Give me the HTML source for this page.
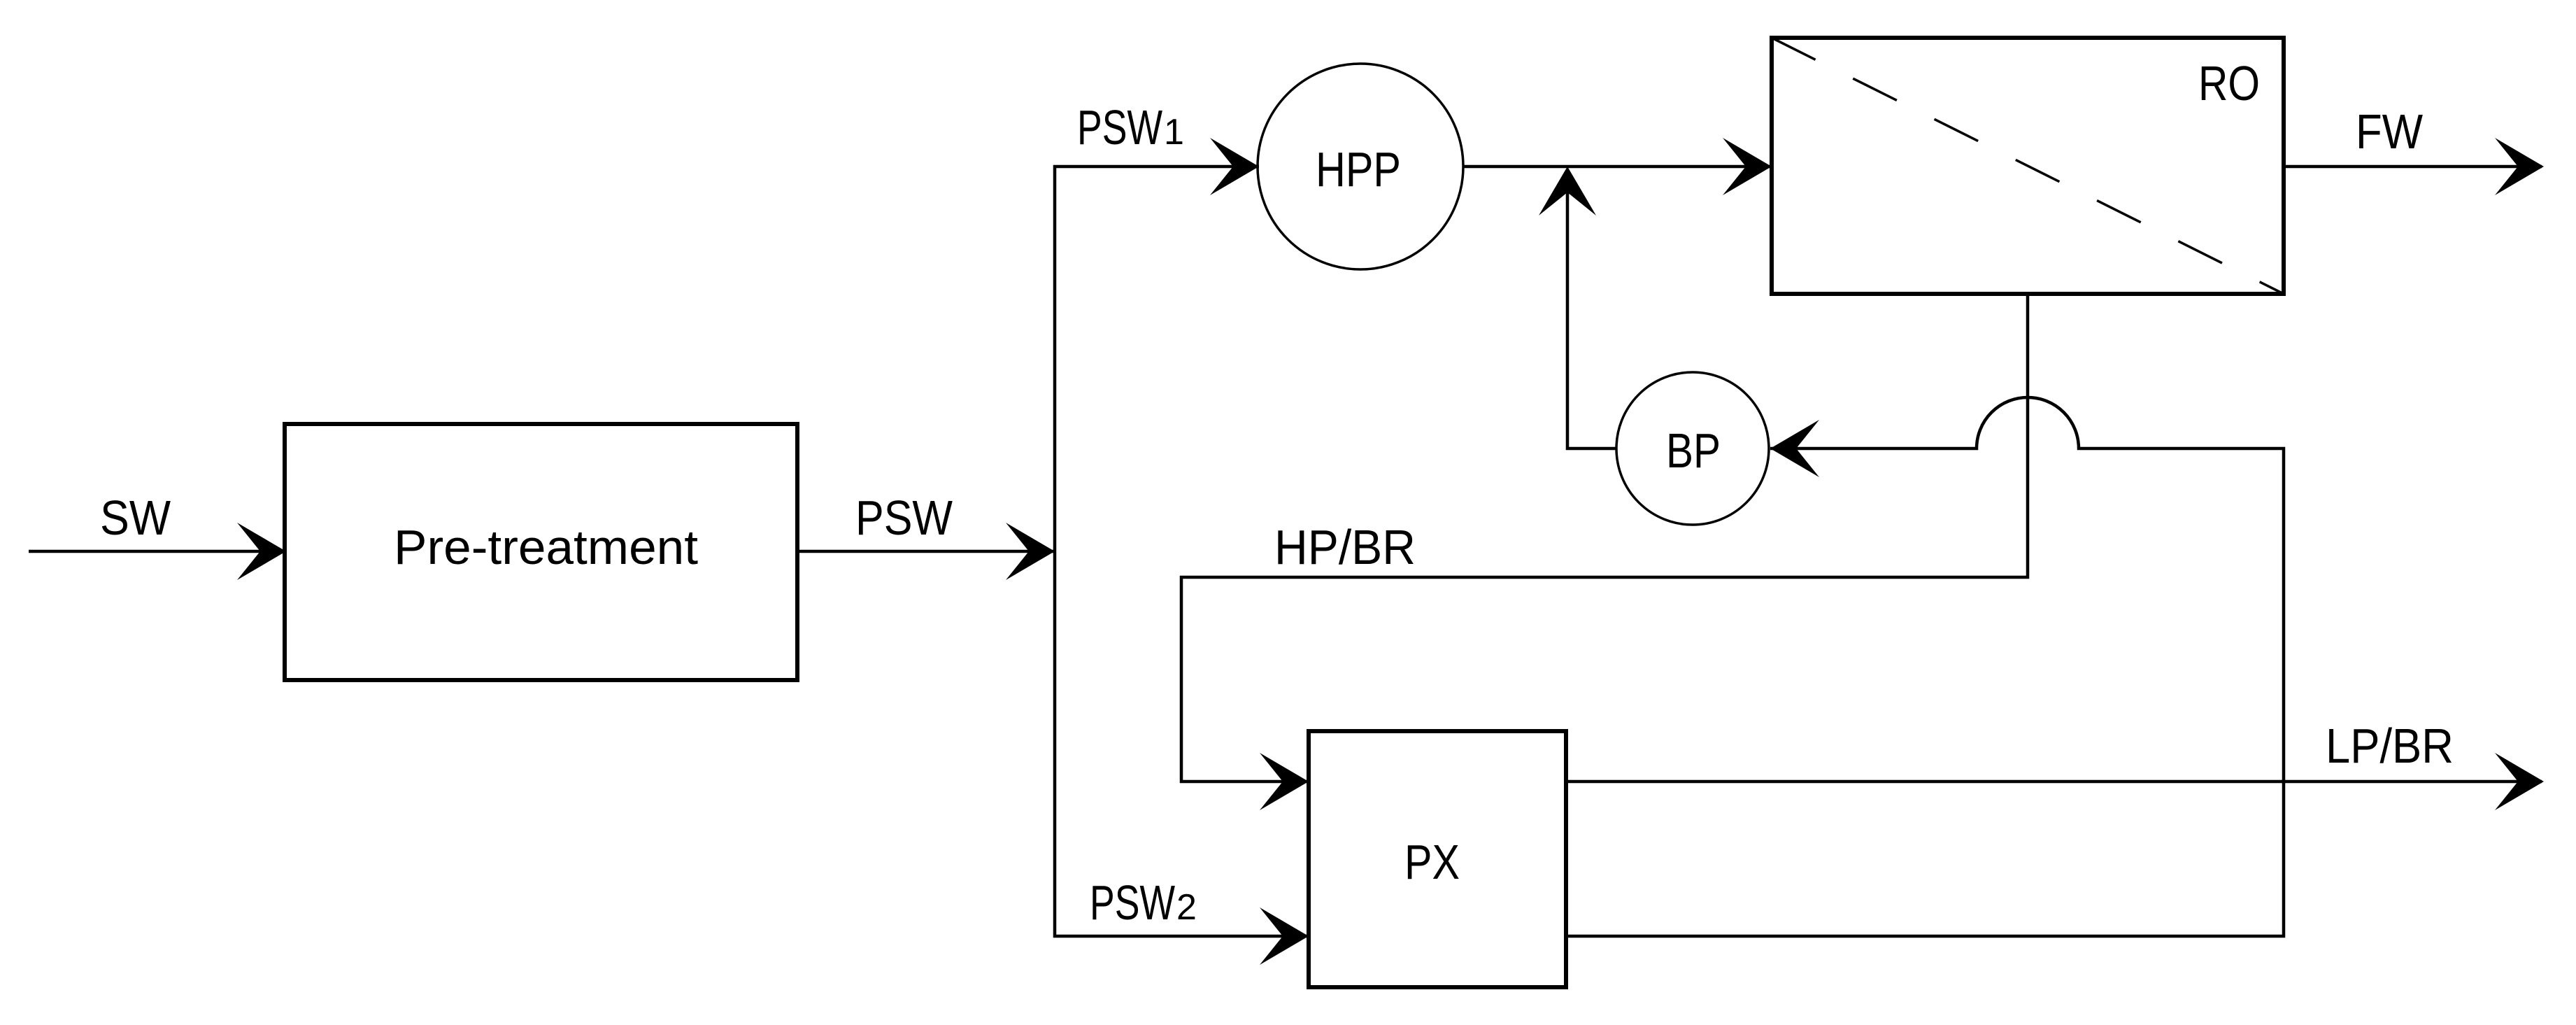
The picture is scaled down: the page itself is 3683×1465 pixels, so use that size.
<!DOCTYPE html>
<html><head><meta charset="utf-8"><style>html,body{margin:0;padding:0;background:#fff}svg{display:block}</style></head>
<body>
<svg width="3683" height="1465" viewBox="0 0 3683 1465" xmlns="http://www.w3.org/2000/svg" font-family="'Liberation Sans', sans-serif" font-size="70" fill="#000">
<defs>
<path id="ah" d="M0,0 L-70,-41 L-37,0 L-70,41 Z"/>
</defs>
<g stroke="#000" stroke-width="4.5" fill="none">
<!-- SW -->
<line x1="41" y1="788" x2="406" y2="788"/>
<!-- pre-treatment -->
<rect x="407" y="606" width="733" height="366" stroke-width="6"/>
<line x1="1140" y1="788" x2="1507" y2="788"/>
<!-- vertical split -->
<polyline points="1800,238 1508,238 1508,1338 1868,1338"/>
<!-- HPP -->
<circle cx="1945" cy="238" r="147" stroke-width="3.5"/>
<line x1="2092" y1="238" x2="2530" y2="238"/>
<!-- RO -->
<rect x="2533" y="54" width="732" height="366" stroke-width="6"/>
<line x1="2533" y1="54" x2="3265" y2="420" stroke-dasharray="70,60" stroke-width="3.5"/>
<line x1="3265" y1="238" x2="3634" y2="238"/>
<!-- BP loop -->
<polyline points="2312,641 2241,641 2241,245"/>
<circle cx="2420" cy="641" r="109" stroke-width="3.5"/>
<path d="M2531,641 L2826,641 A73,73 0 0 1 2972,641 L3265,641 L3265,1338 L2239,1338"/>
<!-- HP/BR -->
<polyline points="2899,420 2899,825 1689,825 1689,1117 1868,1117"/>
<!-- PX -->
<rect x="1871" y="1045" width="368" height="366" stroke-width="6"/>
<line x1="2239" y1="1117" x2="3634" y2="1117"/>
</g>
<use href="#ah" transform="translate(409,788)"/>
<use href="#ah" transform="translate(1508,788)"/>
<use href="#ah" transform="translate(1800,238)"/>
<use href="#ah" transform="translate(2533,238)"/>
<use href="#ah" transform="translate(3637,238)"/>
<use href="#ah" transform="translate(2241,238) rotate(-90)"/>
<use href="#ah" transform="translate(2531,641) rotate(180)"/>
<use href="#ah" transform="translate(1871,1117)"/>
<use href="#ah" transform="translate(1871,1338)"/>
<use href="#ah" transform="translate(3637,1117)"/>
<g dominant-baseline="alphabetic">
<text x="143" y="764" textLength="101" lengthAdjust="spacingAndGlyphs">SW</text>
<text x="563" y="806" textLength="435" lengthAdjust="spacingAndGlyphs">Pre-treatment</text>
<text x="1223" y="764" textLength="139" lengthAdjust="spacingAndGlyphs">PSW</text>
<text x="1540" y="206" textLength="122" lengthAdjust="spacingAndGlyphs">PSW</text>
<text x="1664" y="206" font-size="52">1</text>
<text x="1558" y="1314" textLength="122" lengthAdjust="spacingAndGlyphs">PSW</text>
<text x="1682" y="1314" font-size="52">2</text>
<text x="1881" y="266" textLength="122" lengthAdjust="spacingAndGlyphs">HPP</text>
<text x="3143" y="143" textLength="88" lengthAdjust="spacingAndGlyphs">RO</text>
<text x="3368" y="212" textLength="96" lengthAdjust="spacingAndGlyphs">FW</text>
<text x="2382" y="668" textLength="78" lengthAdjust="spacingAndGlyphs">BP</text>
<text x="1822" y="806" textLength="202" lengthAdjust="spacingAndGlyphs">HP/BR</text>
<text x="2008" y="1256" textLength="79" lengthAdjust="spacingAndGlyphs">PX</text>
<text x="3325" y="1090" textLength="183" lengthAdjust="spacingAndGlyphs">LP/BR</text>
</g>
</svg>
</body></html>
